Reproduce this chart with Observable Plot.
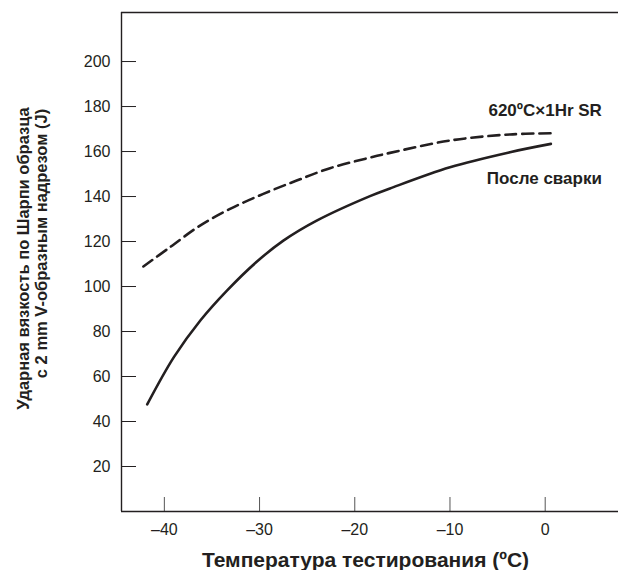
<!DOCTYPE html>
<html><head><meta charset="utf-8">
<script src="https://cdn.jsdelivr.net/npm/d3@7"></script>
<script src="https://cdn.jsdelivr.net/npm/@observablehq/plot@0.6"></script>
<style>
html,body{margin:0;padding:0;background:#fff;}
svg{display:block;}
</style></head><body><div id="chart"></div>
<script>
// Series: 620ºC×1Hr SR (dashed)
const tempsSR  = [-42.2, -39.4, -36.25, -33.1, -29.6, -26.1, -22.6, -18.7, -16.3, -10.0, -3.7, 0.6];
const valuesSR = [108.9, 117.5, 127.1, 134.5, 141.2, 147.1, 152.6, 157.0, 159.4, 164.9, 167.6, 168.1];
// Series: После сварки (solid)
const tempsAW  = [-41.8, -39.0, -36.2, -33.4, -30.3, -27.5, -24.0, -18.4, -16.3, -10.0, -3.7, 0.6];
const valuesAW = [47.6, 68.6, 85.0, 98.3, 111.0, 120.4, 129.3, 140.2, 143.6, 153.0, 159.7, 163.4];

const seriesNames = ["620ºC×1Hr SR", "После сварки"];
const xTicks = [-40, -30, -20, -10, 0];
const yTicks = [20, 40, 60, 80, 100, 120, 140, 160, 180, 200];
const xDomain = [-44.5, 7.7];
const yDomain = [0, 221.8];
const xLabel = "Температура тестирования (ºC)";
const yLabelLines = ["Ударная вязкость по Шарпи образца", "с 2 mm V-образным надрезом (J)"];

const sr = tempsSR.map((t, i) => ({t, v: valuesSR[i]}));
const aw = tempsAW.map((t, i) => ({t, v: valuesAW[i]}));
const ink = "#231f20";
const font = "'Liberation Sans', Arial, sans-serif";

const chart = Plot.plot({
  width: 618, height: 570,
  marginTop: 12, marginBottom: 59, marginLeft: 121, marginRight: 0,
  x: {domain: xDomain},
  y: {domain: yDomain},
  style: {fontFamily: font, fontSize: "16px", color: ink, background: "#fff"},
  marks: [
    Plot.axisY(yTicks, {tickSize: -15, tickPadding: 26, label: null, stroke: ink, fill: ink, fontSize: 16}),
    Plot.axisX(xTicks, {tickSize: -14, tickPadding: 26, label: null, stroke: "#555", fill: ink, fontSize: 16,
      tickFormat: d => d < 0 ? "\u2013" + Math.abs(d) : String(d)}),
    Plot.ruleY([yDomain[0]], {stroke: ink, strokeWidth: 1.4}),
    Plot.ruleY([yDomain[1]], {stroke: ink, strokeWidth: 1.4}),
    Plot.ruleX([xDomain[0]], {stroke: ink, strokeWidth: 1.4}),
    Plot.line(sr, {x: "t", y: "v", curve: "catmull-rom", stroke: ink, strokeWidth: 2.6, strokeDasharray: "11,6"}),
    Plot.line(aw, {x: "t", y: "v", curve: "catmull-rom", stroke: ink, strokeWidth: 2.6}),
    Plot.text([sr[sr.length - 1]], {x: "t", y: "v", text: () => seriesNames[0], textAnchor: "end",
      dx: 51, dy: -23, fontWeight: "bold", fontSize: 17, fill: ink}),
    Plot.text([aw[aw.length - 1]], {x: "t", y: "v", text: () => seriesNames[1], textAnchor: "end",
      dx: 51, dy: 35, fontWeight: "bold", fontSize: 17, fill: ink}),
    Plot.text([yLabelLines[0]], {frameAnchor: "left", textAnchor: "middle", lineAnchor: "middle",
      dx: -98, dy: -3.5, rotate: -90, fontWeight: "bold", fontSize: 16.5, fill: ink}),
    Plot.text([yLabelLines[1]], {frameAnchor: "left", textAnchor: "middle", lineAnchor: "middle",
      dx: -80, dy: -18.5, rotate: -90, fontWeight: "bold", fontSize: 16.5, fill: ink}),
    Plot.text([xLabel], {frameAnchor: "bottom", textAnchor: "middle", lineAnchor: "middle",
      dx: -4.5, dy: 49, fontWeight: "bold", fontSize: 21, fill: ink})
  ]
});
document.getElementById("chart").appendChild(chart);
// make sure the axis tick labels (purely numeric texts) use the larger size
chart.querySelectorAll("text").forEach(t => {
  if (/^[\u2013\u2212\-]?\d+$/.test(t.textContent.trim())) {
    t.setAttribute("font-size", "16");
    t.style.setProperty("font-size", "16px", "important");
  }
});
</script>
</body></html>
